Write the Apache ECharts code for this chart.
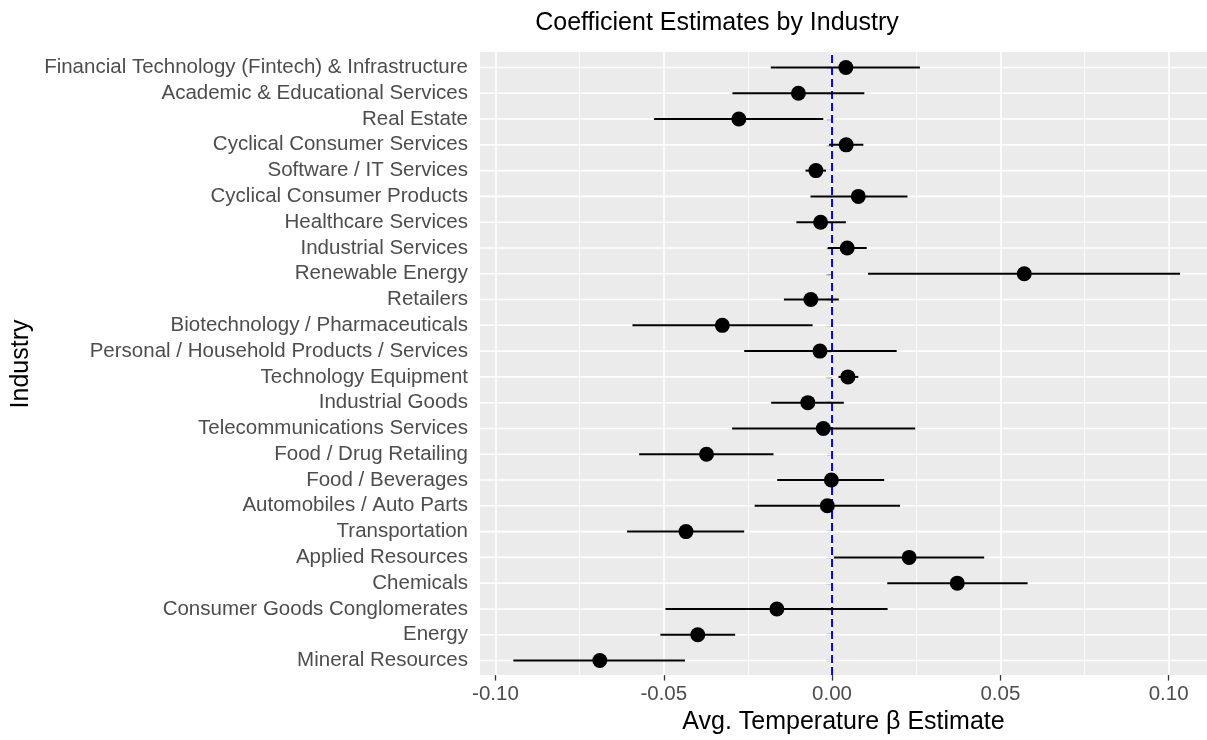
<!DOCTYPE html>
<html>
<head>
<meta charset="utf-8">
<script src="https://cdn.jsdelivr.net/npm/echarts@6/dist/echarts.min.js"></script>
<style>html,body{margin:0;padding:0;background:#fff}#c{width:1207px;height:740px}</style>
</head>
<body>
<div id="c"></div>
<script>
// Categories, top to bottom
const industries = [
  "Financial Technology (Fintech) & Infrastructure",
  "Academic & Educational Services",
  "Real Estate",
  "Cyclical Consumer Services",
  "Software / IT Services",
  "Cyclical Consumer Products",
  "Healthcare Services",
  "Industrial Services",
  "Renewable Energy",
  "Retailers",
  "Biotechnology / Pharmaceuticals",
  "Personal / Household Products / Services",
  "Technology Equipment",
  "Industrial Goods",
  "Telecommunications Services",
  "Food / Drug Retailing",
  "Food / Beverages",
  "Automobiles / Auto Parts",
  "Transportation",
  "Applied Resources",
  "Chemicals",
  "Consumer Goods Conglomerates",
  "Energy",
  "Mineral Resources"
];
const estimate = [0.0041, -0.0100, -0.0277, 0.0042, -0.0048, 0.0078, -0.0034, 0.0045, 0.0571, -0.0063, -0.0326, -0.0036, 0.0047, -0.0072, -0.0026, -0.0373, -0.0002, -0.0014, -0.0434, 0.0229, 0.0372, -0.0164, -0.0399, -0.0690];
const lower    = [-0.0182, -0.0296, -0.0529, -0.0009, -0.0079, -0.0064, -0.0106, -0.0013, 0.0107, -0.0143, -0.0593, -0.0261, 0.0019, -0.0181, -0.0297, -0.0573, -0.0163, -0.0230, -0.0609, 0.0006, 0.0164, -0.0495, -0.0510, -0.0947];
const upper    = [0.0261, 0.0096, -0.0026, 0.0093, -0.0018, 0.0224, 0.0041, 0.0103, 0.1034, 0.0020, -0.0058, 0.0192, 0.0078, 0.0035, 0.0247, -0.0174, 0.0155, 0.0202, -0.0261, 0.0452, 0.0581, 0.0165, -0.0288, -0.0437];
const xTicks = [-0.10, -0.05, 0.00, 0.05, 0.10];
const refLine = 0;
const X_MIN = -0.1046, X_MAX = 0.1114;

const FONT = "'Liberation Sans', Arial, sans-serif";
const PANEL_TOP = 52, PANEL_BOTTOM = 64;
const unit = (740 - PANEL_TOP - PANEL_BOTTOM) / (industries.length - 1 + 1.2);
const pad = 0.1 * unit;

const chart = echarts.init(document.getElementById('c'), null, {renderer: 'canvas'});
chart.setOption({
  animation: false,
  backgroundColor: '#ffffff',
  title: {
    text: 'Coefficient Estimates by Industry',
    left: 712, textAlign: 'center', top: 6,
    textStyle: {fontFamily: FONT, fontSize: 25, fontWeight: 'normal', color: '#000'}
  },
  grid: [
    {left: 480, right: 0, top: PANEL_TOP, bottom: PANEL_BOTTOM, show: true, backgroundColor: '#EBEBEB', borderWidth: 0, containLabel: false},
    {left: 480, right: 0, top: PANEL_TOP + pad, bottom: PANEL_BOTTOM + pad, show: false, containLabel: false}
  ],
  xAxis: [
    {
      gridIndex: 0, type: 'value', min: X_MIN, max: X_MAX, splitNumber: 4,
      name: 'Avg. Temperature \u03B2 Estimate', nameLocation: 'middle', nameGap: 33,
      nameTextStyle: {fontFamily: FONT, fontSize: 25, color: '#000'},
      axisLine: {show: false},
      axisTick: {show: true, length: 5.5, customValues: xTicks, lineStyle: {color: '#333333', width: 1.3}},
      axisLabel: {show: true, customValues: xTicks, margin: 9, fontFamily: FONT, fontSize: 20.5, color: '#4D4D4D',
        formatter: v => v.toFixed(2)},
      splitLine: {show: true, lineStyle: {color: '#ffffff', width: 1.6}},
      minorTick: {show: false, splitNumber: 2},
      minorSplitLine: {show: true, lineStyle: {color: '#ffffff', width: 0.8}}
    },
    {
      gridIndex: 1, type: 'value', min: X_MIN, max: X_MAX, show: false,
      splitLine: {show: false}
    }
  ],
  yAxis: [
    {gridIndex: 0, type: 'value', min: 0, max: 1, show: false, splitLine: {show: false}},
    {
      gridIndex: 1, type: 'category', data: industries, inverse: true,
      name: 'Industry', nameLocation: 'middle', nameGap: 446, nameRotate: 90,
      nameTextStyle: {fontFamily: FONT, fontSize: 25, color: '#000'},
      axisLine: {show: false},
      axisTick: {show: true, alignWithLabel: true, length: 5.5, lineStyle: {color: '#333333', width: 1.3}},
      axisLabel: {show: true, interval: 0, margin: 12, fontFamily: FONT, fontSize: 20.5, color: '#4D4D4D'},
      splitLine: {show: false}
    }
  ],
  series: [
    {
      type: 'custom', xAxisIndex: 1, yAxisIndex: 1, z: 1, silent: true,
      data: industries.map((c, i) => [i]),
      renderItem: (params, api) => {
        const i = api.value(0);
        const a = api.coord([X_MIN, i]);
        const b = api.coord([X_MAX, i]);
        return {type: 'line', shape: {x1: a[0], y1: a[1], x2: b[0], y2: b[1]},
          style: {stroke: '#ffffff', lineWidth: 1.6}};
      }
    },
    {
      type: 'custom', xAxisIndex: 0, yAxisIndex: 0, z: 2, silent: true,
      data: [[refLine]],
      renderItem: (params, api) => {
        const a = api.coord([api.value(0), 0]);
        const b = api.coord([api.value(0), 1]);
        return {type: 'line', shape: {x1: a[0], y1: a[1], x2: b[0], y2: b[1]},
          style: {stroke: '#0000FF', lineWidth: 2, lineDash: [8, 4]}};
      }
    },
    {
      type: 'custom', xAxisIndex: 1, yAxisIndex: 1, z: 3, silent: true,
      data: industries.map((c, i) => [lower[i], upper[i], i]),
      encode: {x: [0, 1], y: 2},
      renderItem: (params, api) => {
        const a = api.coord([api.value(0), api.value(2)]);
        const b = api.coord([api.value(1), api.value(2)]);
        return {type: 'line', shape: {x1: a[0], y1: a[1], x2: b[0], y2: b[1]},
          style: {stroke: '#000000', lineWidth: 2}};
      }
    },
    {
      type: 'scatter', xAxisIndex: 1, yAxisIndex: 1, z: 4, silent: true,
      symbol: 'circle', symbolSize: 15,
      itemStyle: {color: '#000000', opacity: 1},
      data: industries.map((c, i) => [estimate[i], i])
    }
  ]
});
</script>
</body>
</html>
